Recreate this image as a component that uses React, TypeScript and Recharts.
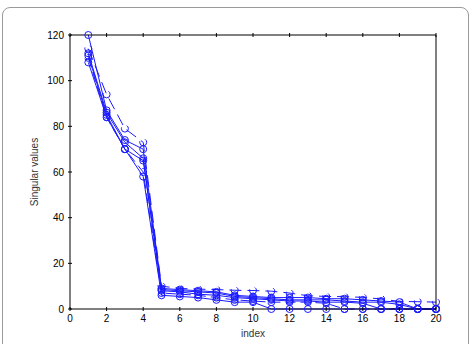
import { LineChart, Line, XAxis, YAxis } from 'recharts';

const indexes = [1, 2, 3, 4, 5, 6, 7, 8, 9, 10, 11, 12, 13, 14, 15, 16, 17, 18, 19, 20];

// singular values per sample
const seriesA = [114, 94, 79, 73, 10, 9, 8.7, 8.5, 8.2, 8.1, 7.8, 7, 5.8, 5.5, 5.4, 5.1, 4.4, 3.3, 3.2, 3];
const seriesB = [120, 87, 74, 70, 9, 8.5, 8, 7.5, 6, 5.5, 5, 5, 5, 4.5, 4.5, 4, 3.5, 3, 0, 0];
const seriesC = [112, 86, 73, 66, 8.5, 8, 7.5, 7, 5.5, 5, 4.5, 4, 4, 4, 3.5, 3, 3, 2, 0, 0];
const seriesD = [111, 85, 70, 65, 8, 7.5, 6.5, 6, 5, 4.5, 4, 3.5, 3.5, 3, 3, 2.5, 0, 0, 0, 0];
const seriesE = [110, 84, 70, 60, 7, 6.5, 6, 5, 4, 3.5, 3, 3, 3, 2.5, 0, 0, 0, 0, 0, 0];
const seriesF = [108, 84, 70, 58, 6, 5.5, 5, 4, 3, 3, 0, 0, 0, 0, 0, 0, 0, 0, 0, 0];

const xTicks = [0, 2, 4, 6, 8, 10, 12, 14, 16, 18, 20];
const yTicks = [0, 20, 40, 60, 80, 100, 120];

const series = [
  { key: 'a', values: seriesA, dash: '12 6' },
  { key: 'b', values: seriesB, dash: undefined },
  { key: 'c', values: seriesC, dash: undefined },
  { key: 'd', values: seriesD, dash: undefined },
  { key: 'e', values: seriesE, dash: '10 5' },
  { key: 'f', values: seriesF, dash: undefined },
];

const data = indexes.map((idx, i) => {
  const row: any = { index: idx };
  series.forEach((s) => {
    row[s.key] = s.values[i];
  });
  return row;
});

const BLUE = '#1a1aff';
const FONT = '"Liberation Sans", Arial, sans-serif';

// ticks drawn inward like matlab
const BottomTick = ({ x, y, payload }: any) => (
  <g>
    <line x1={x} y1={y} x2={x} y2={y - 4} stroke="#000" />
    <text x={x} y={y + 11} textAnchor="middle" fontSize={10} fontFamily={FONT} fill="#000">
      {payload.value}
    </text>
  </g>
);
const TopTick = ({ x, y }: any) => <line x1={x} y1={y} x2={x} y2={y + 4} stroke="#000" />;
const LeftTick = ({ x, y, payload }: any) => (
  <g>
    <line x1={x} y1={y} x2={x + 4} y2={y} stroke="#000" />
    <text x={x - 4} y={y + 3.5} textAnchor="end" fontSize={10} fontFamily={FONT} fill="#000">
      {payload.value}
    </text>
  </g>
);
const RightTick = ({ x, y }: any) => <line x1={x} y1={y} x2={x - 4} y2={y} stroke="#000" />;

export default function App() {
  return (
    <div style={{ position: 'absolute', left: 0, top: 0, width: 473, height: 344, background: '#fff', overflow: 'hidden' }}>
      <div
        style={{
          position: 'absolute',
          left: 2,
          top: 7,
          width: 465,
          height: 360,
          border: '1px solid #9a9a9a',
          borderRadius: 8,
        }}
      />
      <div style={{ position: 'absolute', left: 0, top: 0 }}>
        <LineChart width={473} height={344} data={data} margin={{ top: 34, right: 36, left: 30, bottom: 5 }}>
          <XAxis
            xAxisId="bottom"
            dataKey="index"
            type="number"
            domain={[0, 20]}
            ticks={xTicks}
            tickLine={false}
            tickSize={0}
            tick={<BottomTick />}
            height={30}
            axisLine={{ stroke: '#000' }}
            label={{ value: 'index', position: 'insideBottom', offset: 2, fontSize: 10, fontFamily: FONT, fill: '#333' }}
          />
          <XAxis
            xAxisId="top"
            orientation="top"
            dataKey="index"
            type="number"
            domain={[0, 20]}
            ticks={xTicks}
            tickLine={false}
            tickSize={0}
            tick={<TopTick />}
            height={1}
            axisLine={{ stroke: '#000' }}
          />
          <YAxis
            yAxisId="left"
            type="number"
            domain={[0, 120]}
            ticks={yTicks}
            tickLine={false}
            tickSize={0}
            tick={<LeftTick />}
            width={40}
            axisLine={{ stroke: '#000' }}
            label={{ value: 'Singular values', angle: -90, position: 'insideLeft', offset: 0, dx: 4, fontSize: 10, fontFamily: FONT, fill: '#333', style: { textAnchor: 'middle' } }}
          />
          <YAxis
            yAxisId="right"
            orientation="right"
            type="number"
            domain={[0, 120]}
            ticks={yTicks}
            tickLine={false}
            tickSize={0}
            tick={<RightTick />}
            width={1}
            axisLine={{ stroke: '#000' }}
          />
          {series.map((s) => (
            <Line
              key={s.key}
              xAxisId="bottom"
              yAxisId="left"
              dataKey={s.key}
              type="linear"
              stroke={BLUE}
              strokeWidth={1}
              strokeDasharray={s.dash}
              dot={{ r: 3.5, stroke: BLUE, strokeWidth: 1, fill: 'none' }}
              activeDot={false}
              isAnimationActive={false}
            />
          ))}
        </LineChart>
      </div>
    </div>
  );
}
